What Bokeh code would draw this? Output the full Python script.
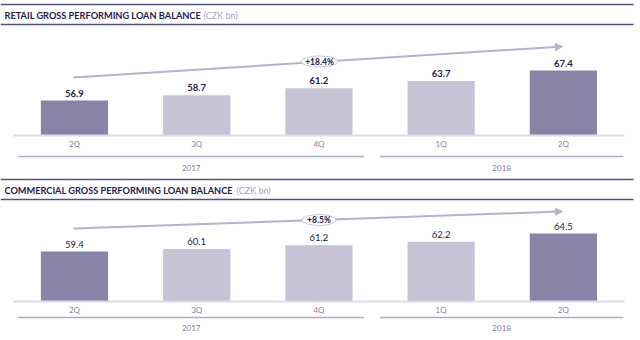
from bokeh.plotting import figure
from bokeh.models import Range1d, Arrow, NormalHead
from bokeh.core.properties import value
from bokeh.embed import file_html
from bokeh.resources import INLINE

# ---- data ----
quarters = ["2Q", "3Q", "4Q", "1Q", "2Q"]
years = ["2017", "2018"]
year_quarters = [[0, 1, 2], [3, 4]]
retail = [56.9, 58.7, 61.2, 63.7, 67.4]
commercial = [59.4, 60.1, 61.2, 62.2, 64.5]
highlight = [True, False, False, False, True]
retail_growth = "+18.4%"
commercial_growth = "+8.5%"
retail_title = "RETAIL GROSS PERFORMING LOAN BALANCE"
commercial_title = "COMMERCIAL GROSS PERFORMING LOAN BALANCE"
unit = "(CZK bn)"

# ---- styles ----
DARK = "#8983a8"
LIGHT = "#c6c3d7"
NAVY = "#1f1a4d"
RULE = "#55517f"
ARROW = "#b5b2cc"
FONT = value("Lato")

p = figure(width=640, height=340, output_backend="svg", toolbar_location=None,
           x_range=Range1d(0, 640), y_range=Range1d(340, 0),
           x_axis_location=None, y_axis_location=None, min_border=0,
           outline_line_color=None, background_fill_color="white",
           border_fill_color="white")
p.grid.visible = False

idx = list(range(len(quarters)))
p.extra_x_ranges = {"idx": Range1d(-0.605, 4.631)}
p.extra_y_ranges = {"retail": Range1d(-27.1, 91.9), "comm": Range1d(34.2, 130.5)}

colors = [DARK if h else LIGHT for h in highlight]

panels = [
    dict(vals=retail, yr="retail", base=44.65, top=0, title=retail_title, tw=203,
         growth=retail_growth, bold=True, arrow=(73, 77, 562, 46), ell=(319, 61, 37, 11),
         cat_y=143, grp_y=156, year_y=167),
    dict(vals=commercial, yr="comm", base=45.24, top=175, title=commercial_title, tw=236,
         growth=commercial_growth, bold=False, arrow=(73, 228, 562, 211), ell=(318.5, 219.5, 34, 11),
         cat_y=309, grp_y=317, year_y=327),
]

for pn in panels:
    t = pn["top"]
    # rules
    p.segment(x0=[0, 0], x1=[633, 633], y0=[t + 4, t + 24], y1=[t + 4, t + 24],
              line_color=RULE, line_width=1.6)
    # title
    p.text(x=[4], y=[t + 14.5], text=[pn["title"]], text_font=FONT, text_font_style="bold",
           text_font_size="9.2px", text_color=NAVY, text_baseline="middle", text_align="left")
    p.text(x=[pn["tw"]], y=[t + 14.5], text=[unit], text_font=FONT,
           text_font_size="9px", text_color="#a5a1bd", text_baseline="middle", text_align="left")
    # bars
    p.vbar(x=idx, top=pn["vals"], bottom=pn["base"], width=0.55, fill_color=colors,
           line_color=None, x_range_name="idx", y_range_name=pn["yr"])
    # baseline
    p.segment(x0=[-0.5], x1=[4.5], y0=[pn["base"]], y1=[pn["base"]], line_color="#dedce9",
              line_width=2, x_range_name="idx", y_range_name=pn["yr"])
    # value labels
    p.text(x=idx, y=pn["vals"], text=[f"{v:.1f}" for v in pn["vals"]], x_range_name="idx",
           y_range_name=pn["yr"], y_offset=-4, text_font=FONT,
           text_font_style="bold" if pn["bold"] else "normal", text_font_size="9.5px",
           text_color=NAVY, text_align="center", text_baseline="bottom")
    # category labels
    p.text(x=idx, y=[pn["cat_y"]] * len(idx), text=quarters, x_range_name="idx", text_font=FONT,
           text_font_size="8px", text_color="#8583a2", text_align="center", text_baseline="middle")
    # group lines and year labels
    for yname, qs in zip(years, year_quarters):
        x0 = qs[0] - 0.46 if qs[0] == 0 else qs[0] - 0.5
        x1 = qs[-1] + 0.37 if qs[-1] != 4 else qs[-1] + 0.49
        p.segment(x0=[x0], x1=[x1], y0=[pn["grp_y"]], y1=[pn["grp_y"]], x_range_name="idx",
                  line_color="#aeabc6", line_width=1.3)
        p.text(x=[(x0 + x1) / 2], y=[pn["year_y"]], text=[yname], x_range_name="idx",
               text_font=FONT, text_font_size="8px", text_color="#7f7c9c",
               text_align="center", text_baseline="middle")
    # growth arrow: line as glyph (below the ellipse), head as annotation
    ax0, ay0, ax1, ay1 = pn["arrow"]
    p.segment(x0=[ax0], y0=[ay0], x1=[ax1 - 3], y1=[ay1 + 3 * (ay0 - ay1) / (ax1 - ax0)],
              line_color=ARROW, line_width=2)
    f = 0.02
    p.add_layout(Arrow(x_start=ax1 - f * (ax1 - ax0), y_start=ay1 - f * (ay1 - ay0),
                       x_end=ax1, y_end=ay1, line_color=ARROW, line_width=2,
                       end=NormalHead(size=7, fill_color=ARROW, line_color=ARROW)))
    ex, ey, ew, eh = pn["ell"]
    p.ellipse(x=[ex], y=[ey], width=ew, height=eh, fill_color="white",
              line_color="#c9c7d9", line_width=1)
    p.text(x=[ex], y=[ey], text=[pn["growth"]], text_font=FONT, text_font_style="bold",
           text_font_size="8.5px", text_color=NAVY, text_align="center", text_baseline="middle")

open("out.html", "w").write(file_html(p, INLINE))
